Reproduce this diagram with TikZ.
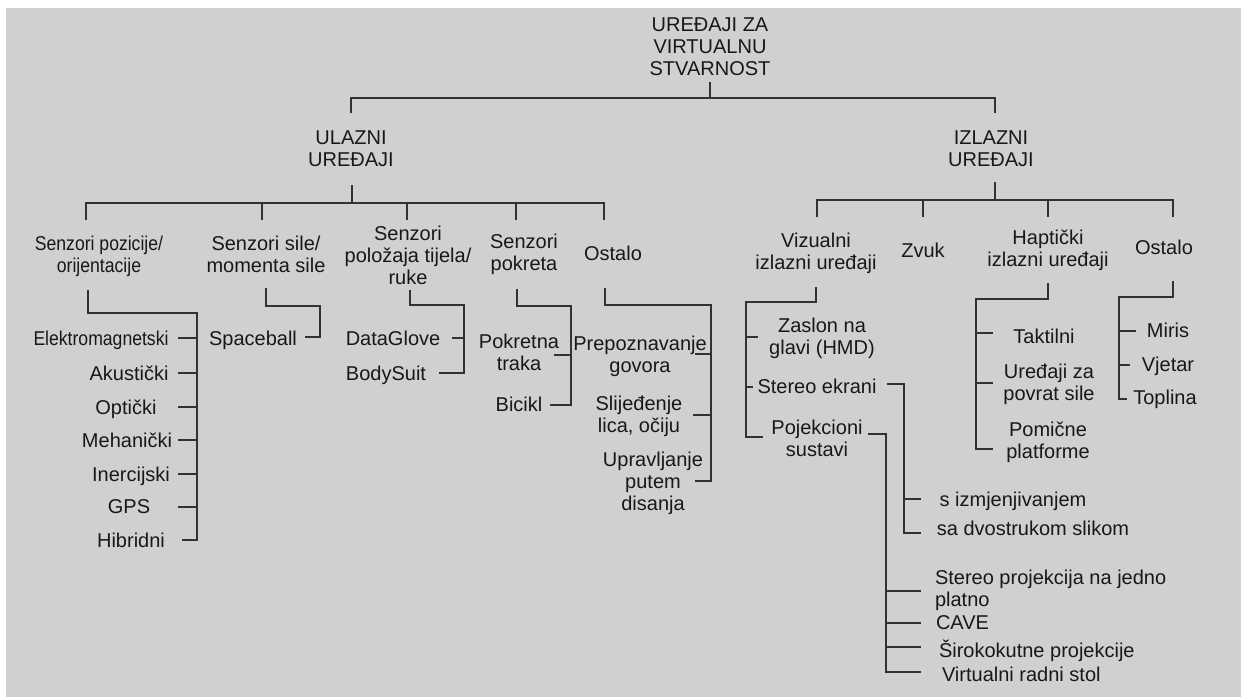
\documentclass[tikz,border=0pt]{standalone}
\usepackage{fontspec}
\setmainfont{Liberation Sans}
\newfontfamily\lbnarrow[FakeStretch=0.88]{Liberation Sans}
\definecolor{bgc}{RGB}{208,208,207}
\definecolor{ink}{RGB}{24,24,24}
\definecolor{linec}{RGB}{50,50,50}
\begin{document}
\begin{tikzpicture}[x=1pt,y=-1pt,
  lbl/.style={font={\fontsize{20}{22}\selectfont}, align=center, inner sep=0pt, outer sep=0pt, text=ink},
  nlbl/.style={lbl, font={\lbnarrow\fontsize{20}{22}\selectfont}},
  llbl/.style={lbl, align=left, anchor=west},
  conn/.style={draw=linec, line width=1.3pt}]
\useasboundingbox (0,0) rectangle (1241,697);
\fill[white] (0,0) rectangle (1241,697);
\fill[bgc] (6,8) rectangle (1241,697);

% top levels
\node[lbl] (title) at (710,47) {UREĐAJI ZA\\VIRTUALNU\\STVARNOST};
\node[lbl] (ul) at (351,149) {ULAZNI\\UREĐAJI};
\node[lbl] (iz) at (991,149) {IZLAZNI\\UREĐAJI};

% level 2 (input)
\node[nlbl] (spo) at (99,256) {Senzori pozicije/\\orijentacije};
\node[lbl] (ssi) at (266,254) {Senzori sile/\\momenta sile};
\node[lbl] (spt) at (408,255) {Senzori\\položaja tijela/\\ruke};
\node[lbl] (spk) at (524,254) {Senzori\\pokreta};
\node[lbl] (ostA) at (613,253) {Ostalo};
% level 2 (output)
\node[lbl] (viz) at (816,253) {Vizualni\\izlazni uređaji};
\node[lbl] (zvuk) at (923,250) {Zvuk};
\node[lbl] (hap) at (1048,250) {Haptički\\izlazni uređaji};
\node[lbl] (ostB) at (1164,247) {Ostalo};

% level 3 (input)
\node[nlbl] (el) at (101,340) {Elektromagnetski};
\node[lbl] (ak) at (129,373) {Akustički};
\node[lbl] (op) at (126,409) {Optički};
\node[lbl] (me) at (127,440) {Mehanički};
\node[lbl] (inr) at (131,476) {Inercijski};
\node[lbl] (gps) at (129,507) {GPS};
\node[lbl] (hi) at (131,540) {Hibridni};
\node[lbl] (sb) at (253,340) {Spaceball};
\node[lbl] (dg) at (393,338) {DataGlove};
\node[lbl] (bs) at (386,375) {BodySuit};
\node[lbl] (pk) at (519,352) {Pokretna\\traka};
\node[lbl] (bc) at (519,404) {Bicikl};
\node[lbl] (pg) at (640,356) {Prepoznavanje\\govora};
\node[lbl] (sl) at (639,416) {Slijeđenje\\lica, očiju};
\node[lbl] (up) at (653,483) {Upravljanje\\putem\\disanja};

% level 3 (output)
\node[lbl] (zs) at (822,338) {Zaslon na\\glavi (HMD)};
\node[lbl] (se) at (817,386) {Stereo ekrani};
\node[lbl] (pj) at (817,438) {Pojekcioni\\sustavi};
\node[lbl] (tk) at (1044,336) {Taktilni};
\node[lbl] (uz) at (1049,384) {Uređaji za\\povrat sile};
\node[lbl] (pm) at (1048,442) {Pomične\\platforme};
\node[lbl] (mi) at (1168,330) {Miris};
\node[lbl] (vj) at (1168,366) {Vjetar};
\node[lbl] (tp) at (1165,399) {Toplina};

% level 4
\node[lbl] (si) at (1013,501) {s izmjenjivanjem};
\node[lbl] (sd) at (1033,528) {sa dvostrukom slikom};
\node[llbl] (spj) at (935,590) {Stereo projekcija na jedno\\platno};
\node[llbl] (cave) at (936,623) {CAVE};
\node[llbl] (sir) at (939,651) {Širokokutne projekcije};
\node[llbl] (vrs) at (942,674) {Virtualni radni stol};

% main connectors
\coordinate (m) at (710,98);
\coordinate (mL) at (351,98);
\coordinate (mR) at (995,98);
\draw[conn] (m |- 0,82) -- (m);
\draw[conn] (mL |- 0,113) -- (mL) -- (mR) -- (mR |- 0,113);

% input bus
\coordinate (uT) at (352,185);
\coordinate (uL) at (86,203);
\coordinate (uR) at (604,203);
\draw[conn] (uT) -- (uT |- uL);
\draw[conn] (uL |- 0,220) -- (uL) -- (uR) -- (uR |- 0,220);
\foreach \x in {262,407,516} \draw[conn] (\x,203) -- (\x,220);

% output bus
\coordinate (iT) at (995,182);
\coordinate (iL) at (817,200);
\coordinate (iR) at (1173,200);
\draw[conn] (iT) -- (iT |- iL);
\draw[conn] (iL |- 0,217) -- (iL) -- (iR) -- (iR |- 0,217);
\foreach \x in {923,1048} \draw[conn] (\x,200) -- (\x,217);

% Senzori pozicije
\coordinate (a1) at (88,290);
\coordinate (a2) at (197,313);
\draw[conn] (a1) |- (a2) -- (a2 |- 0,540) -- ++(-15,0);
\foreach \y in {338,373,407,440,474,507} \draw[conn] (a2 |- 0,\y) -- ++(-19,0);

% Senzori sile
\coordinate (b1) at (266,288);
\coordinate (b2) at (320,306);
\draw[conn] (b1) |- (b2) -- (b2 |- 0,337) -- ++(-15,0);

% Senzori polozaja
\coordinate (c1) at (410,290);
\coordinate (c2) at (464,305);
\draw[conn] (c1) |- (c2) -- (c2 |- 0,373) -- ++(-25,0);
\draw[conn] (c2 |- 0,338) -- ++(-12,0);

% Senzori pokreta
\coordinate (d1) at (517,289);
\coordinate (d2) at (571,306);
\draw[conn] (d1) |- (d2) -- (d2 |- 0,405) -- ++(-21,0);
\draw[conn] (d2 |- 0,355) -- ++(-17,0);

% Ostalo (input)
\coordinate (e1) at (605,288);
\coordinate (e2) at (711,305);
\draw[conn] (e1) |- (e2) -- (e2 |- 0,481) -- ++(-16,0);
\draw[conn] (e2 |- 0,354) -- ++(-16,0);
\draw[conn] (e2 |- 0,415) -- ++(-18,0);

% Vizualni
\coordinate (f1) at (816,287);
\coordinate (f2) at (746,302);
\draw[conn] (f1) |- (f2) -- (f2 |- 0,437) -- ++(17,0);
\draw[conn] (f2 |- 0,337) -- ++(12,0);
\draw[conn] (f2 |- 0,387) -- ++(7,0);

% Stereo ekrani
\coordinate (g1) at (887,384);
\coordinate (g2) at (904,384);
\draw[conn] (g1) -- (g2) -- (g2 |- 0,533) -- ++(17,0);
\draw[conn] (g2 |- 0,499) -- ++(17,0);

% Pojekcioni sustavi
\coordinate (h1) at (868,434);
\coordinate (h2) at (886,434);
\draw[conn] (h1) -- (h2) -- (h2 |- 0,672) -- ++(35,0);
\foreach \y in {591,623,647} \draw[conn] (h2 |- 0,\y) -- ++(35,0);

% Hapticki
\coordinate (k1) at (1048,283);
\coordinate (k2) at (976,299);
\draw[conn] (k1) |- (k2) -- (k2 |- 0,449) -- ++(17,0);
\draw[conn] (k2 |- 0,333) -- ++(17,0);
\draw[conn] (k2 |- 0,383) -- ++(17,0);

% Ostalo (output)
\coordinate (n1) at (1173,281);
\coordinate (n2) at (1119,297);
\draw[conn] (n1) |- (n2) -- (n2 |- 0,399) -- ++(8,0);
\draw[conn] (n2 |- 0,331) -- ++(17,0);
\draw[conn] (n2 |- 0,365) -- ++(11,0);
\end{tikzpicture}
\end{document}
